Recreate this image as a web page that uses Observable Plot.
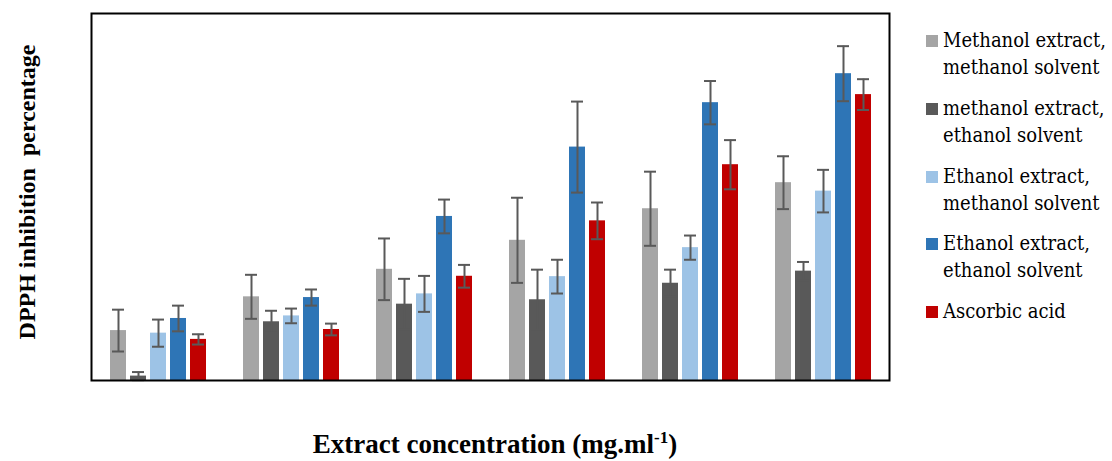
<!DOCTYPE html>
<html>
<head>
<meta charset="utf-8">
<script src="https://cdn.jsdelivr.net/npm/d3@7"></script>
<script src="https://cdn.jsdelivr.net/npm/@observablehq/plot@0.6"></script>
<style>
  html, body { margin: 0; padding: 0; background: #fff; }
  #wrap { position: relative; width: 1112px; height: 461px; font-family: "Liberation Serif", serif; color: #000; }
  #chart { position: absolute; left: 0; top: 0; }
  #ytitle { position: absolute; left: 27px; top: 192px; transform: translate(-50%, -50%) rotate(-90deg); white-space: pre; font-weight: bold; font-size: 24px; font-family: "Liberation Serif", serif; }
  #xtitle { position: absolute; left: 495px; top: 429px; transform: translateX(-50%); white-space: nowrap; font-weight: bold; font-size: 27px; font-family: "Liberation Serif", serif; }
  #xtitle sup { font-size: 17px; vertical-align: 10px; line-height: 0; }
  .leg { position: absolute; left: 926px; font-size: 20px; line-height: 27px; font-weight: normal; font-family: "DejaVu Serif Condensed", "DejaVu Serif", serif; }
  .leg .sw { position: absolute; left: 0; top: 8px; width: 12px; height: 12px; }
  .leg .tx { margin-left: 17px; white-space: pre; }
</style>
</head>
<body>
<div id="wrap">
  <div id="chart"></div>
  <div id="ytitle">DPPH inhibition  percentage</div>
  <div id="xtitle">Extract concentration (mg.ml<sup>-1</sup>)</div>
</div>
<script>
// Concentration groups (no tick labels shown in the original)
const groups = ["C1", "C2", "C3", "C4", "C5", "C6"];
const series = [
  "Methanol extract,\nmethanol solvent",
  "methanol extract,\nethanol solvent",
  "Ethanol extract,\nmethanol solvent",
  "Ethanol extract,\nethanol solvent",
  "Ascorbic acid"
];
const colors = ["#A5A5A5", "#595959", "#9DC3E6", "#2E75B6", "#C00000"];

// Values (inhibition %, estimated) and error bars
const methMeth = [13.6, 22.8, 30.3, 38.2, 46.8, 53.9];
const methMethErr = [5.7, 6.0, 8.4, 11.6, 10.1, 7.2];
const methEth = [1.2, 16.0, 20.8, 22.0, 26.5, 29.8];
const methEthErr = [1.1, 3.0, 6.9, 8.2, 3.7, 2.5];
const ethMeth = [12.9, 17.6, 23.6, 28.3, 36.2, 51.6];
const ethMethErr = [3.7, 2.0, 4.9, 4.6, 3.3, 5.8];
const ethEth = [16.9, 22.6, 44.7, 63.6, 75.7, 83.6];
const ethEthErr = [3.5, 2.2, 4.6, 12.4, 5.9, 7.5];
const ascorbic = [11.2, 13.9, 28.4, 43.5, 58.8, 77.9];
const ascorbicErr = [1.4, 1.6, 3.1, 5.0, 6.7, 4.2];

const valueLists = [methMeth, methEth, ethMeth, ethEth, ascorbic];
const errLists = [methMethErr, methEthErr, ethMethErr, ethEthErr, ascorbicErr];

const data = [];
groups.forEach((g, gi) => {
  series.forEach((s, si) => {
    data.push({group: g, series: s, value: valueLists[si][gi], err: errLists[si][gi]});
  });
});

const chart = Plot.plot({
  width: 900,
  height: 395,
  marginLeft: 90,
  marginRight: 10,
  marginTop: 13,
  marginBottom: 15,
  fx: {domain: groups, padding: 0, axis: null, label: null},
  x: {domain: series, paddingInner: 0.216, paddingOuter: 0.86, axis: null, label: null},
  y: {domain: [0, 100], axis: null},
  color: {domain: series, range: colors},
  marks: [
    Plot.barY(data, {fx: "group", x: "series", y: "value", fill: "series"}),
    Plot.ruleX(data, {fx: "group", x: "series", y1: d => d.value - d.err, y2: d => d.value + d.err, stroke: "#595959", strokeWidth: 2}),
    Plot.tickY(data, {fx: "group", x: "series", y: d => d.value + d.err, stroke: "#595959", strokeWidth: 2, inset: 2}),
    Plot.tickY(data, {fx: "group", x: "series", y: d => d.value - d.err, stroke: "#595959", strokeWidth: 2, inset: 2}),
    Plot.frame({facet: "super", stroke: "#000", strokeWidth: 2})
  ]
});
document.getElementById("chart").appendChild(chart);

// Legend
const wrap = document.getElementById("wrap");
series.forEach((s, i) => {
  const item = document.createElement("div");
  item.className = "leg";
  item.style.top = (27 + i * 67.8) + "px";
  const sw = document.createElement("div");
  sw.className = "sw";
  sw.style.background = colors[i];
  const tx = document.createElement("div");
  tx.className = "tx";
  tx.textContent = s;
  item.appendChild(sw);
  item.appendChild(tx);
  wrap.appendChild(item);
});
</script>
</body>
</html>
